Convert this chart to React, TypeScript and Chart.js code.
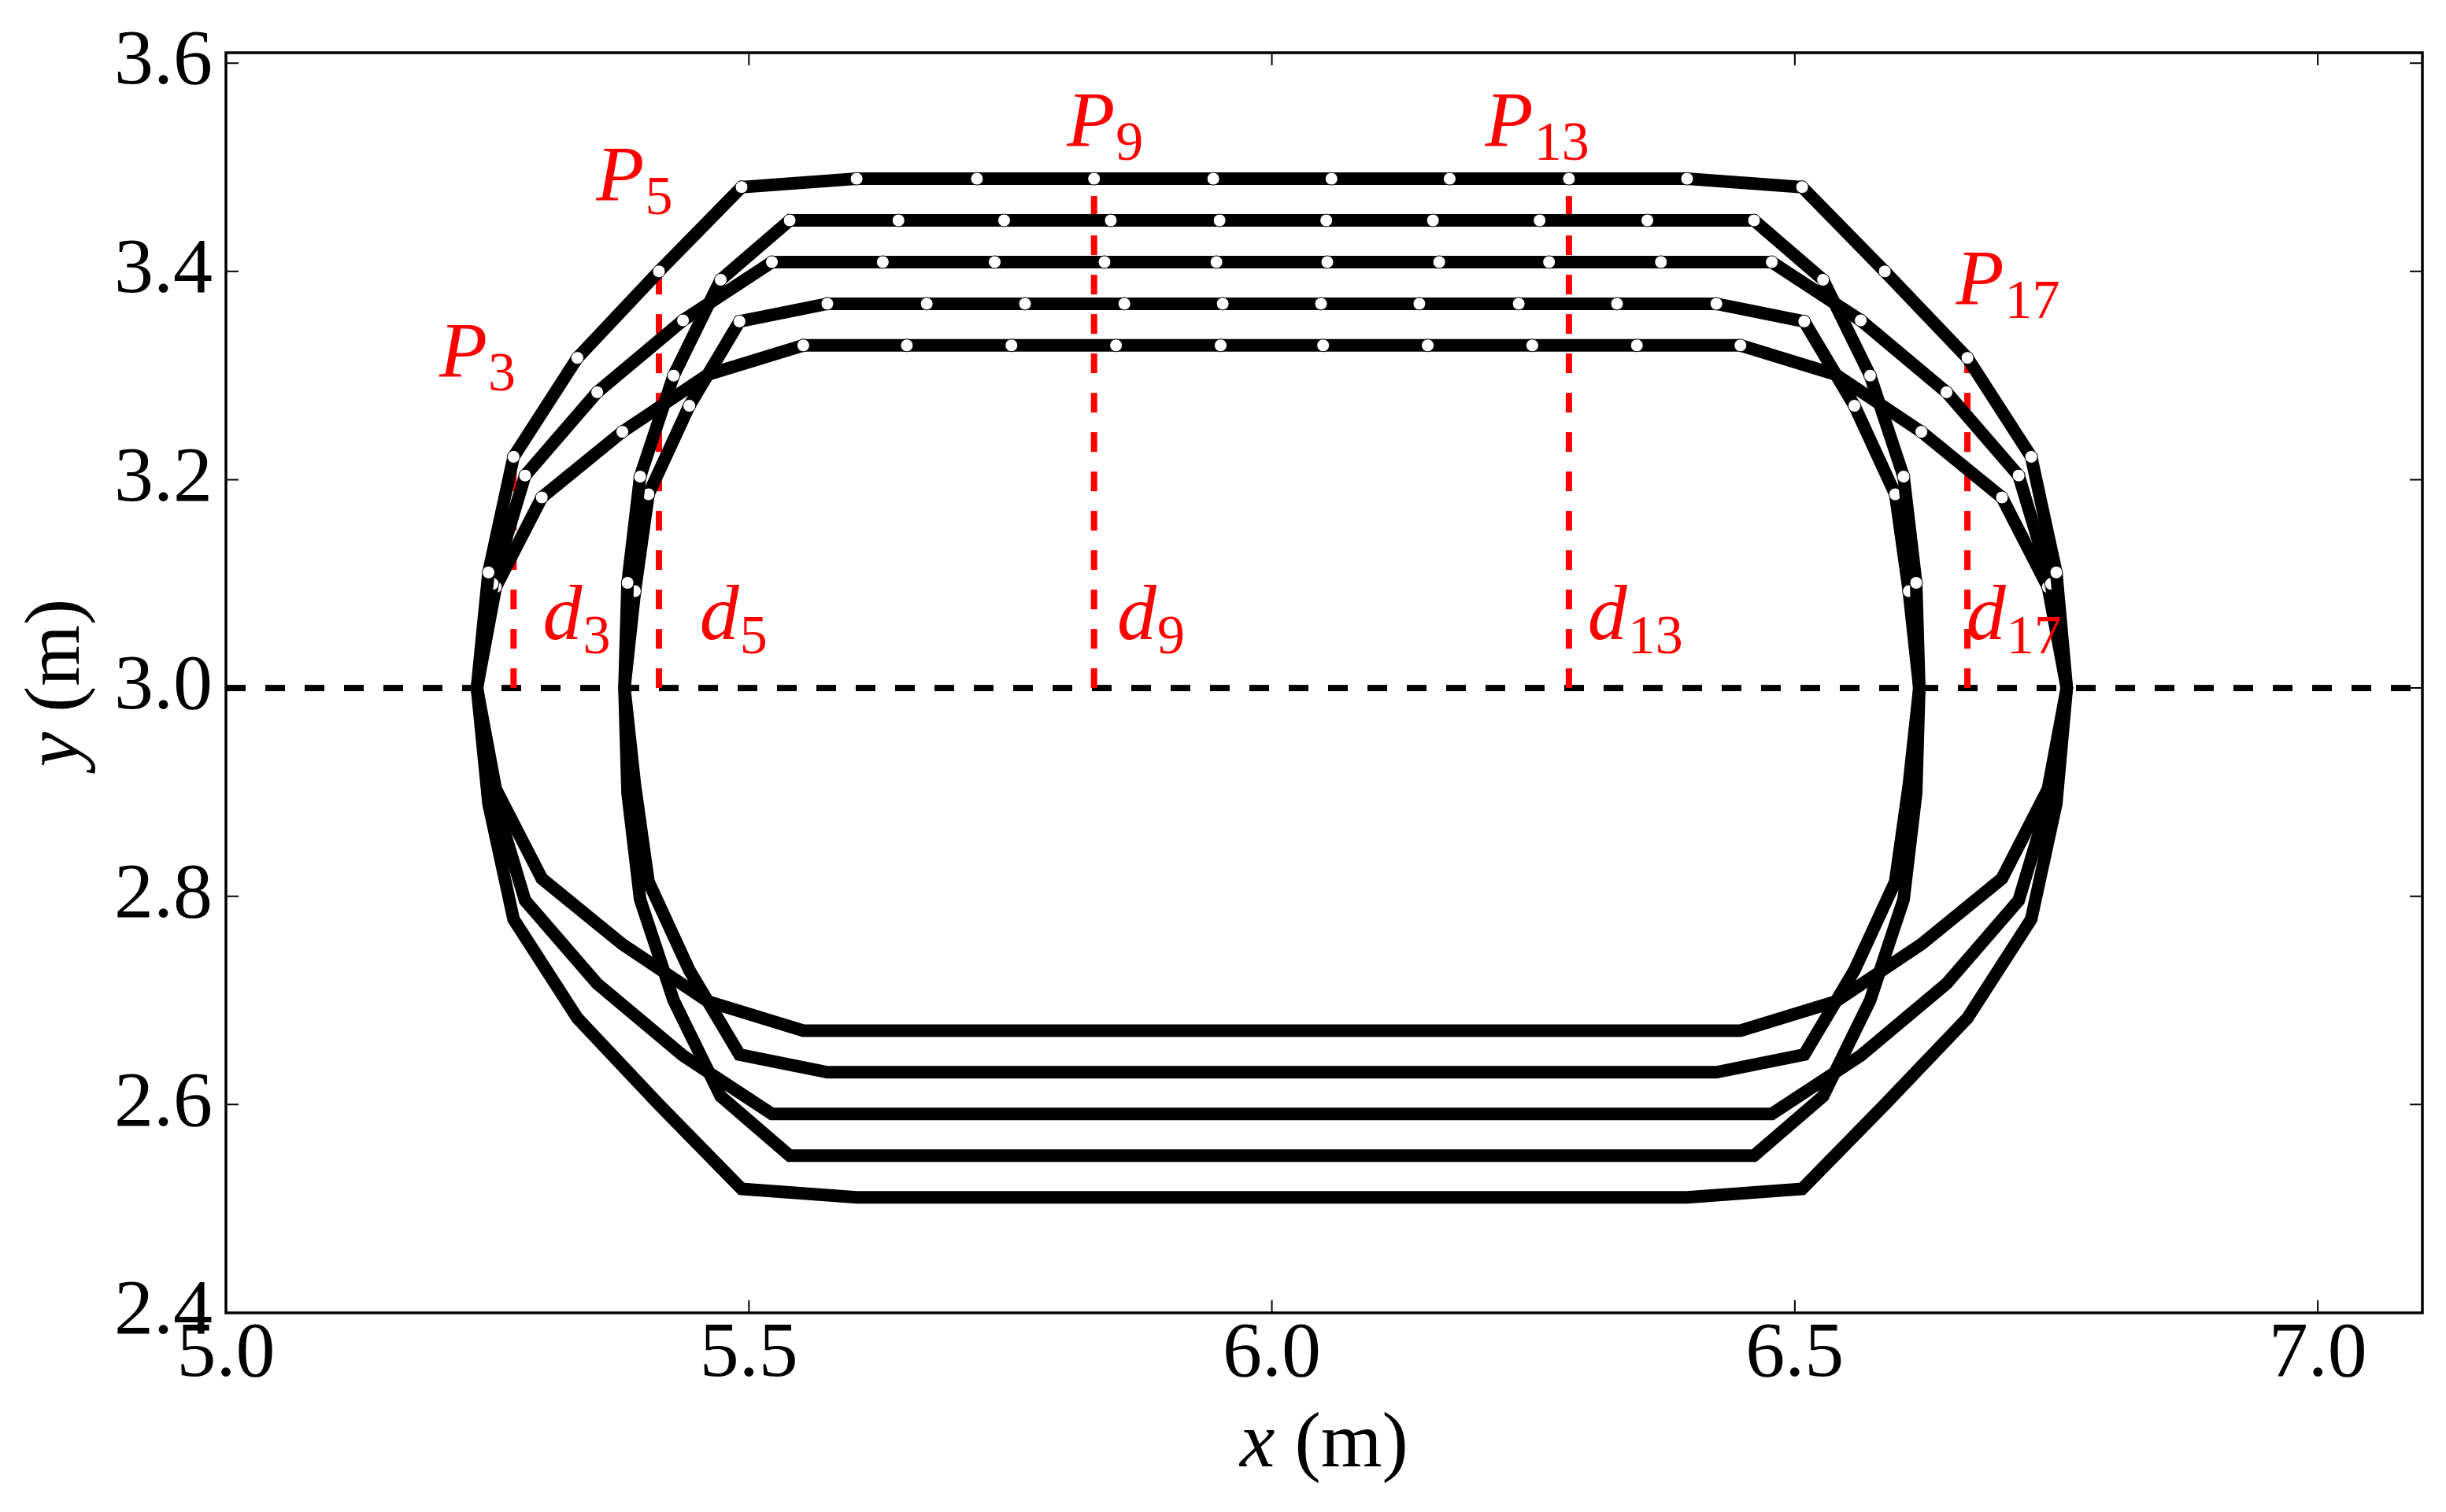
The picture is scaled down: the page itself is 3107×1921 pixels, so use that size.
import React, { useEffect, useRef } from 'react';
import { Chart, registerables } from 'chart.js';

Chart.register(...registerables);

// Axis ticks
const xTicks = [5.0, 5.5, 6.0, 6.5, 7.0];
const yTicks = [2.4, 2.6, 2.8, 3.0, 3.2, 3.4, 3.6];

// Loop 1 (outermost)
const loop1TopX = [5.240, 5.251, 5.275, 5.336, 5.414, 5.493, 5.603, 5.718, 5.830, 5.944, 6.057, 6.170, 6.284, 6.397, 6.507, 6.586, 6.665, 6.726, 6.750, 6.760];
const loop1TopY = [3.000, 3.111, 3.222, 3.317, 3.400, 3.481, 3.489, 3.489, 3.489, 3.489, 3.489, 3.489, 3.489, 3.489, 3.481, 3.400, 3.317, 3.222, 3.111, 3.000];
const loop1BottomX = [6.760, 6.750, 6.726, 6.665, 6.586, 6.507, 6.397, 6.284, 6.170, 6.057, 5.944, 5.830, 5.718, 5.603, 5.493, 5.414, 5.336, 5.275, 5.251, 5.240];
const loop1BottomY = [3.000, 2.889, 2.778, 2.683, 2.600, 2.519, 2.511, 2.511, 2.511, 2.511, 2.511, 2.511, 2.511, 2.511, 2.519, 2.600, 2.683, 2.778, 2.889, 3.000];

// Loop 2
const loop2TopX = [5.381, 5.384, 5.396, 5.428, 5.473, 5.539, 5.643, 5.744, 5.846, 5.950, 6.052, 6.154, 6.256, 6.359, 6.461, 6.527, 6.572, 6.604, 6.616, 6.619];
const loop2TopY = [3.000, 3.101, 3.203, 3.300, 3.392, 3.449, 3.449, 3.449, 3.449, 3.449, 3.449, 3.449, 3.449, 3.449, 3.449, 3.392, 3.300, 3.203, 3.101, 3.000];
const loop2BottomX = [6.619, 6.616, 6.604, 6.572, 6.527, 6.461, 6.359, 6.256, 6.154, 6.052, 5.950, 5.846, 5.744, 5.643, 5.539, 5.473, 5.428, 5.396, 5.384, 5.381];
const loop2BottomY = [3.000, 2.899, 2.797, 2.700, 2.608, 2.551, 2.551, 2.551, 2.551, 2.551, 2.551, 2.551, 2.551, 2.551, 2.551, 2.608, 2.700, 2.797, 2.899, 3.000];

// Loop 3
const loop3TopX = [5.240, 5.255, 5.286, 5.355, 5.437, 5.522, 5.628, 5.735, 5.840, 5.947, 6.053, 6.160, 6.265, 6.372, 6.478, 6.563, 6.645, 6.714, 6.745, 6.760];
const loop3TopY = [3.000, 3.100, 3.204, 3.284, 3.353, 3.409, 3.409, 3.409, 3.409, 3.409, 3.409, 3.409, 3.409, 3.409, 3.409, 3.353, 3.284, 3.204, 3.100, 3.000];
const loop3BottomX = [6.760, 6.745, 6.714, 6.645, 6.563, 6.478, 6.372, 6.265, 6.160, 6.053, 5.947, 5.840, 5.735, 5.628, 5.522, 5.437, 5.355, 5.286, 5.255, 5.240];
const loop3BottomY = [3.000, 2.900, 2.796, 2.716, 2.647, 2.591, 2.591, 2.591, 2.591, 2.591, 2.591, 2.591, 2.591, 2.591, 2.591, 2.647, 2.716, 2.796, 2.900, 3.000];

// Loop 4
const loop4TopX = [5.381, 5.391, 5.404, 5.443, 5.491, 5.575, 5.670, 5.764, 5.859, 5.953, 6.047, 6.141, 6.236, 6.330, 6.425, 6.509, 6.557, 6.596, 6.609, 6.619];
const loop4TopY = [3.000, 3.093, 3.186, 3.271, 3.352, 3.369, 3.369, 3.369, 3.369, 3.369, 3.369, 3.369, 3.369, 3.369, 3.369, 3.352, 3.271, 3.186, 3.093, 3.000];
const loop4BottomX = [6.619, 6.609, 6.596, 6.557, 6.509, 6.425, 6.330, 6.236, 6.141, 6.047, 5.953, 5.859, 5.764, 5.670, 5.575, 5.491, 5.443, 5.404, 5.391, 5.381];
const loop4BottomY = [3.000, 2.907, 2.814, 2.729, 2.648, 2.631, 2.631, 2.631, 2.631, 2.631, 2.631, 2.631, 2.631, 2.631, 2.631, 2.648, 2.729, 2.814, 2.907, 3.000];

// Loop 5 (innermost top)
const loop5TopX = [5.240, 5.258, 5.302, 5.379, 5.461, 5.552, 5.651, 5.751, 5.851, 5.951, 6.049, 6.149, 6.249, 6.349, 6.448, 6.539, 6.621, 6.698, 6.742, 6.760];
const loop5TopY = [3.000, 3.097, 3.183, 3.246, 3.301, 3.329, 3.329, 3.329, 3.329, 3.329, 3.329, 3.329, 3.329, 3.329, 3.329, 3.301, 3.246, 3.183, 3.097, 3.000];
const loop5BottomX = [6.760, 6.742, 6.698, 6.621, 6.539, 6.448, 6.349, 6.249, 6.149, 6.049, 5.951, 5.851, 5.751, 5.651, 5.552, 5.461, 5.379, 5.302, 5.258, 5.240];
const loop5BottomY = [3.000, 2.903, 2.817, 2.754, 2.699, 2.671, 2.671, 2.671, 2.671, 2.671, 2.671, 2.671, 2.671, 2.671, 2.671, 2.699, 2.754, 2.817, 2.903, 3.000];

// Reference line
const refLineX = [5.0, 7.1];
const refLineY = [3.0, 3.0];

// Marked points (indices into loop 1, 1-based) and their labels
const markedIdx = [3, 5, 9, 13, 17];
const pLabelX = [5.204, 5.354, 5.804, 6.204, 6.654];
const pLabelY = [3.299, 3.469, 3.521, 3.521, 3.369];
const dLabelX = [5.303, 5.453, 5.852, 6.302, 6.664];
const dLabelY = [3.047, 3.047, 3.047, 3.047, 3.047];

const SERIF = '"Liberation Serif", "Times New Roman", serif';

function toPoints(xs: number[], ys: number[]) {
  return xs.map((x, i) => ({ x, y: ys[i] }));
}

function loopPoints(tx: number[], ty: number[], bx: number[], by: number[]) {
  return [...toPoints(tx, ty), ...toPoints(bx, by).slice(1)];
}

const overlayPlugin = {
  id: 'overlay',
  afterDatasetsDraw(chart: any) {
    const { ctx, chartArea: a, scales } = chart;
    const xs = scales.x;
    const ys = scales.y;
    ctx.save();
    // frame
    ctx.strokeStyle = '#000';
    ctx.lineWidth = 3.5;
    ctx.setLineDash([]);
    ctx.strokeRect(a.left, a.top, a.right - a.left, a.bottom - a.top);
    // inward ticks on all four sides
    ctx.lineWidth = 2;
    ctx.beginPath();
    for (const v of xTicks) {
      const px = xs.getPixelForValue(v);
      ctx.moveTo(px, a.bottom);
      ctx.lineTo(px, a.bottom - 16);
      ctx.moveTo(px, a.top);
      ctx.lineTo(px, a.top + 16);
    }
    for (const v of yTicks) {
      const py = ys.getPixelForValue(v);
      ctx.moveTo(a.left, py);
      ctx.lineTo(a.left + 16, py);
      ctx.moveTo(a.right, py);
      ctx.lineTo(a.right - 16, py);
    }
    ctx.stroke();

    // P and d labels
    ctx.fillStyle = '#ff0000';
    ctx.textBaseline = 'alphabetic';
    ctx.textAlign = 'left';
    const drawSub = (main: string, sub: string, vx: number, vy: number) => {
      const px = xs.getPixelForValue(vx);
      const py = ys.getPixelForValue(vy);
      ctx.font = `italic 100px ${SERIF}`;
      ctx.fillText(main, px, py);
      const w = ctx.measureText(main).width;
      ctx.font = `70px ${SERIF}`;
      ctx.fillText(sub, px + w + 1, py + 18);
    };
    markedIdx.forEach((n, i) => {
      drawSub('P', String(n), pLabelX[i], pLabelY[i]);
      drawSub('d', String(n), dLabelX[i], dLabelY[i]);
    });

    // axis titles
    ctx.fillStyle = '#000';
    const drawTitle = (v: string, cx: number, cy: number, rot: number) => {
      ctx.save();
      ctx.translate(cx, cy);
      ctx.rotate(rot);
      ctx.font = `italic 100px ${SERIF}`;
      const w1 = ctx.measureText(v).width;
      ctx.font = `100px ${SERIF}`;
      const w2 = ctx.measureText(' (m)').width;
      const start = -(w1 + w2) / 2;
      ctx.font = `italic 100px ${SERIF}`;
      ctx.fillText(v, start, 0);
      ctx.font = `100px ${SERIF}`;
      ctx.fillText(' (m)', start + w1, 0);
      ctx.restore();
    };
    const cxMid = (a.left + a.right) / 2;
    const cyMid = (a.top + a.bottom) / 2;
    drawTitle('x', cxMid, 1863, 0);
    drawTitle('y', 100, cyMid, -Math.PI / 2);
    ctx.restore();
  },
};

export default function App() {
  const canvasRef = useRef<HTMLCanvasElement | null>(null);

  useEffect(() => {
    const canvas = canvasRef.current;
    if (!canvas) return;

    const loopDefs = [
      loopPoints(loop1TopX, loop1TopY, loop1BottomX, loop1BottomY),
      loopPoints(loop2TopX, loop2TopY, loop2BottomX, loop2BottomY),
      loopPoints(loop3TopX, loop3TopY, loop3BottomX, loop3BottomY),
      loopPoints(loop4TopX, loop4TopY, loop4BottomX, loop4BottomY),
      loopPoints(loop5TopX, loop5TopY, loop5BottomX, loop5BottomY),
    ];

    const loopDatasets = loopDefs.map((pts, i) => {
      const radii = pts.map((_, k) => (k >= 1 && k <= 18 ? 8 : 0));
      return {
        label: `loop ${i + 1}`,
        data: pts,
        showLine: true,
        fill: false,
        tension: 0,
        borderColor: '#000',
        borderWidth: 16,
        backgroundColor: '#fff',
        pointRadius: radii,
        pointHoverRadius: radii,
        pointBackgroundColor: '#fff',
        pointBorderColor: '#000',
        pointBorderWidth: 1,
        order: i + 1,
        clip: false as any,
      };
    });

    const redDatasets = markedIdx.map((n) => ({
      label: `d${n}`,
      data: [
        { x: loop1TopX[n - 1], y: refLineY[0] },
        { x: loop1TopX[n - 1], y: loop1TopY[n - 1] },
      ],
      showLine: true,
      fill: false,
      borderColor: '#ff0000',
      borderWidth: 8,
      borderDash: [25, 25],
      pointRadius: 0,
      pointHoverRadius: 0,
      order: 20,
    }));

    const refDataset = {
      label: 'y = 3',
      data: toPoints(refLineX, refLineY),
      showLine: true,
      fill: false,
      borderColor: '#000',
      borderWidth: 8,
      borderDash: [25, 25],
      pointRadius: 0,
      pointHoverRadius: 0,
      order: 30,
    };

    const tickFont = { family: SERIF, size: 100, lineHeight: 1 };

    const chart = new Chart(canvas, {
      type: 'scatter',
      data: { datasets: [...loopDatasets, ...redDatasets, refDataset] as any },
      options: {
        animation: false,
        responsive: false,
        devicePixelRatio: 1,
        events: [],
        layout: { padding: { top: 60, right: 30, left: 0, bottom: 0 } },
        plugins: { legend: { display: false }, tooltip: { enabled: false } },
        scales: {
          x: {
            type: 'linear',
            min: 5.0,
            max: 7.1,
            grid: { display: false, drawTicks: false },
            border: { display: false },
            afterBuildTicks: (scale: any) => {
              scale.ticks = xTicks.map((v) => ({ value: v }));
            },
            afterFit: (scale: any) => {
              scale.height = 253;
            },
            ticks: {
              autoSkip: false,
              maxRotation: 0,
              minRotation: 0,
              padding: 4,
              color: '#000',
              font: tickFont,
              callback: (v: any) => Number(v).toFixed(1),
            },
          },
          y: {
            type: 'linear',
            min: 2.4,
            max: 3.61,
            grid: { display: false, drawTicks: false },
            border: { display: false },
            afterBuildTicks: (scale: any) => {
              scale.ticks = yTicks.map((v) => ({ value: v }));
            },
            afterFit: (scale: any) => {
              scale.width = 287;
            },
            ticks: {
              autoSkip: false,
              padding: 17,
              color: '#000',
              font: tickFont,
              callback: (v: any) => Number(v).toFixed(1),
            },
          },
        },
      } as any,
      plugins: [overlayPlugin],
    });

    return () => {
      chart.destroy();
    };
  }, []);

  return (
    <div style={{ position: 'absolute', left: 0, top: 0, width: 3107, height: 1921, background: '#fff' }}>
      <canvas ref={canvasRef} width={3107} height={1921} style={{ display: 'block', width: '3107px', height: '1921px' }} />
    </div>
  );
}
